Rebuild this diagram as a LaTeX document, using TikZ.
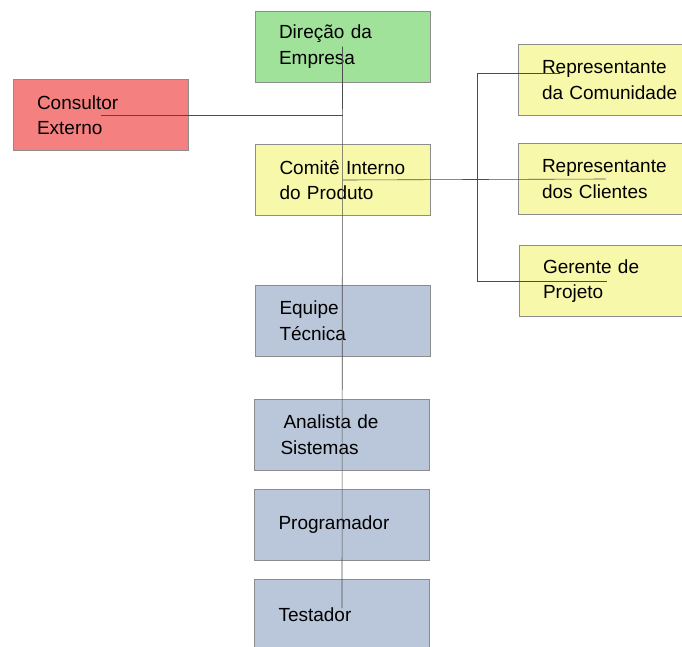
\documentclass[tikz,border=0pt]{standalone}
\usepackage{fontspec}
\setmainfont{Liberation Sans}
\definecolor{verde}{RGB}{161,226,155}
\definecolor{vermelho}{RGB}{245,128,128}
\definecolor{amarelo}{RGB}{248,248,170}
\definecolor{cinzaazul}{RGB}{186,199,218}

\begin{document}
\begin{tikzpicture}[x=1pt,y=-1pt,
  caixa/.style={rectangle,draw=black!45,line width=0.9pt,minimum height=71pt,
    text width=127pt,inner xsep=24pt,align=left,
    font=\fontsize{19}{25.5}\selectfont},
  ligacao/.style={draw=black!70,line width=0.6pt}]
\useasboundingbox (0,0) rectangle (682,646);
% topo
\node[caixa,fill=verde](direcao) at (342.5,46.5){Direção da\\Empresa};
\node[caixa,fill=vermelho](consultor) at (100.5,115){Consultor\\Externo};
\node[caixa,fill=amarelo](comite) at (343,180){Comitê Interno\\do Produto};
% lado direito
\node[caixa,fill=amarelo](comunidade) at (605.5,80){Representante\\\mbox{da Comunidade}};
\node[caixa,fill=amarelo](clientes) at (605.5,179){Representante\\dos Clientes};
\node[caixa,fill=amarelo](gerente) at (606.5,281){Gerente de\\Projeto};
% equipe
\node[caixa,fill=cinzaazul](equipe) at (343,320.5){Equipe\\Técnica};
\node[caixa,fill=cinzaazul](analista) at (342,434.5){\hspace*{5pt}Analista de\\\hspace*{2pt}Sistemas};
\node[caixa,fill=cinzaazul](programador) at (342,525){Programador};
\node[caixa,fill=cinzaazul](testador) at (342,614.5){Testador};

\coordinate (fim) at (342,608);
\coordinate (ramo) at (477,73);
\coordinate (ponta) at (560,73);

\draw[ligacao] (direcao.center) -- (fim);
\draw[ligacao] (consultor.center) -- (consultor.center -| direcao.center);
\draw[ligacao] (comite.center) -- (clientes.center);
\draw[ligacao] (ponta) -- (ramo) -- (ramo |- gerente.center) -- (gerente.center);
\end{tikzpicture}
\end{document}
